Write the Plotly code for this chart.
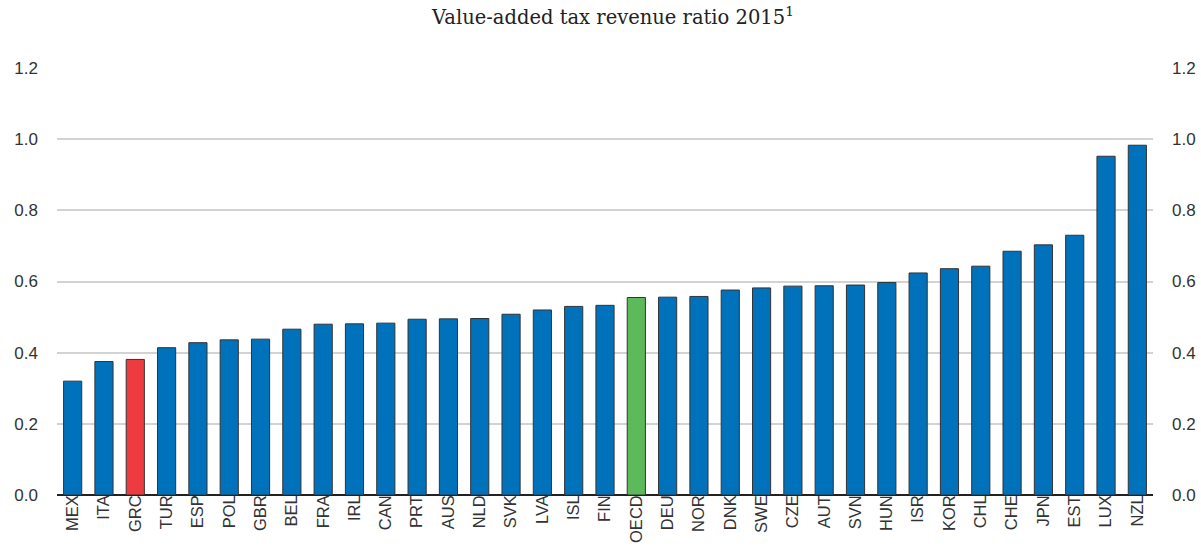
import plotly.graph_objects as go

countries = ["MEX", "ITA", "GRC", "TUR", "ESP", "POL", "GBR", "BEL", "FRA", "IRL", "CAN",
             "PRT", "AUS", "NLD", "SVK", "LVA", "ISL", "FIN", "OECD", "DEU", "NOR", "DNK",
             "SWE", "CZE", "AUT", "SVN", "HUN", "ISR", "KOR", "CHL", "CHE", "JPN", "EST",
             "LUX", "NZL"]
vat_ratio = [0.320, 0.375, 0.381, 0.414, 0.428, 0.436, 0.438, 0.466, 0.480, 0.481, 0.483,
             0.494, 0.495, 0.496, 0.508, 0.520, 0.530, 0.533, 0.555, 0.556, 0.558, 0.576,
             0.582, 0.587, 0.588, 0.590, 0.597, 0.624, 0.636, 0.643, 0.685, 0.703, 0.730,
             0.952, 0.983]

BLUE = "#0072BC"
RED = "#EE3B3F"
GREEN = "#5CBA5A"
colors = [RED if c == "GRC" else GREEN if c == "OECD" else BLUE for c in countries]

ticks = [0.0, 0.2, 0.4, 0.6, 0.8, 1.0, 1.2]
tick_text = ["0.0", "0.2", "0.4", "0.6", "0.8", "1.0", "1.2"]

fig = go.Figure()
fig.add_trace(go.Bar(
    x=countries, y=vat_ratio,
    marker=dict(color=colors, line=dict(color="#333333", width=1)),
    showlegend=False,
))
fig.add_trace(go.Scatter(x=[countries[0]], y=[0], yaxis="y2", mode="markers",
                         marker=dict(opacity=0), showlegend=False, hoverinfo="skip"))

x_font = dict(family="Liberation Sans, Arial, sans-serif", size=16.5, color="#333333")
y_font = dict(family="Liberation Sans, Arial, sans-serif", size=17, color="#333333")

fig.update_layout(
    width=1201, height=547,
    paper_bgcolor="white", plot_bgcolor="white",
    margin=dict(l=57, r=48, t=68, b=52),
    bargap=0.42,
    xaxis=dict(
        tickangle=-90, tickfont=x_font, showgrid=False,
        showline=False, ticks="", automargin=False, ticklabelstandoff=-4,
        range=[-0.5, len(countries) - 0.5],
    ),
    yaxis=dict(
        range=[0, 1.2], tickvals=ticks, ticktext=tick_text, tickfont=y_font,
        showgrid=True, gridcolor="#D3D3D3", gridwidth=1.5, zeroline=True,
        zerolinecolor="#222222", zerolinewidth=2, showline=False,
        ticks="", ticklabelstandoff=18, automargin=False,
    ),
    yaxis2=dict(
        range=[0, 1.2], tickvals=ticks, ticktext=tick_text, tickfont=y_font,
        overlaying="y", side="right", showgrid=False, zeroline=False,
        showline=False, ticks="", ticklabelstandoff=18, automargin=False,
    ),
    annotations=[dict(
        text="Value-added tax revenue ratio 2015<sup>1</sup>",
        x=0.507, xref="paper", y=1 + (68 - 16) / (547 - 68 - 52), yref="paper",
        yanchor="middle", showarrow=False,
        font=dict(family="DejaVu Serif", size=19.5, color="#222222"),
    )],
)

fig.write_html("out.html", config={"displayModeBar": False},
               post_script="document.body.style.margin='0';")
